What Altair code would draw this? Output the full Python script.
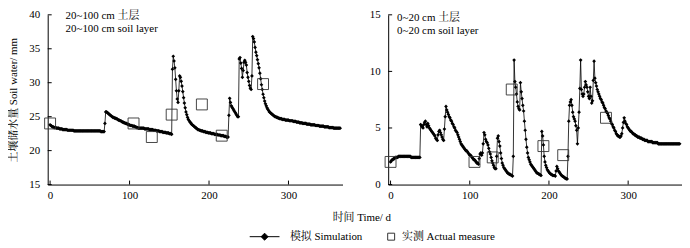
import altair as alt
import pandas as pd

FONT = "Liberation Serif, Noto Serif CJK SC, Noto Sans CJK SC"

DAYS = list(range(366))

# 20~100 cm layer, simulated daily soil water (mm)
SIM_DEEP = [
    23.8, 23.7, 23.6, 23.5, 23.5, 23.4, 23.4, 23.4, 23.3, 23.3,
    23.3, 23.3, 23.2, 23.2, 23.2, 23.2, 23.1, 23.1, 23.1, 23.1,
    23.1, 23.1, 23.0, 23.0, 23.0, 23.0, 23.0, 23.0, 23.0, 23.0,
    22.9, 22.9, 22.9, 22.9, 22.9, 22.9, 22.9, 22.9, 22.9, 22.9,
    22.9, 22.9, 22.9, 22.9, 22.9, 22.9, 22.9, 22.9, 22.9, 22.9,
    22.9, 22.9, 22.9, 22.9, 22.9, 22.9, 22.9, 22.9, 22.9, 22.9,
    22.9, 22.9, 22.9, 22.9, 22.8, 22.8, 22.8, 22.8, 22.8, 24.0,
    25.7, 25.7, 25.6, 25.5, 25.4, 25.3, 25.2, 25.1, 25.0, 24.9,
    24.9, 24.8, 24.8, 24.7, 24.7, 24.6, 24.5, 24.5, 24.4, 24.4,
    24.3, 24.2, 24.2, 24.1, 24.1, 24.0, 24.0, 23.9, 23.9, 23.8,
    23.8, 23.7, 23.7, 23.7, 23.6, 23.6, 23.6, 23.5, 23.5, 23.4,
    23.4, 23.3, 23.3, 23.3, 23.3, 23.3, 23.3, 23.3, 23.3, 23.2,
    23.2, 23.2, 23.2, 23.2, 23.2, 23.1, 23.1, 23.1, 23.1, 23.1,
    23.0, 23.0, 23.0, 23.0, 22.9, 22.9, 22.9, 22.9, 22.8, 22.8,
    22.8, 22.8, 22.7, 22.7, 22.7, 22.7, 22.6, 22.6, 22.6, 22.6,
    22.5, 22.5, 22.5, 22.4, 32.0, 33.9, 33.2, 32.2, 30.5, 28.8,
    27.6, 27.1, 28.8, 31.0, 30.8, 30.2, 29.5, 28.7, 27.8, 27.0,
    26.3, 25.7, 25.3, 24.9, 24.6, 24.4, 24.2, 24.1, 23.9, 23.8,
    23.7, 23.6, 23.5, 23.4, 23.3, 23.2, 23.1, 23.1, 23.0, 23.0,
    22.9, 22.9, 22.9, 22.8, 22.8, 22.8, 22.7, 22.7, 22.7, 22.6,
    22.6, 22.6, 22.6, 22.5, 22.5, 22.5, 22.5, 22.4, 22.4, 22.4,
    22.4, 22.3, 22.3, 22.3, 22.3, 22.2, 22.2, 22.2, 22.2, 22.1,
    22.1, 22.1, 22.0, 22.0, 22.0, 25.2, 27.7, 27.1, 26.6, 26.4,
    26.2, 26.0, 25.8, 25.6, 25.4, 25.2, 25.0, 25.0, 33.5, 33.7,
    32.9, 32.1, 30.8, 31.8, 33.0, 33.3, 33.0, 32.6, 31.5, 30.8,
    30.2, 29.6, 29.2, 29.0, 31.0, 36.8, 36.5, 36.0, 35.2, 34.5,
    34.0, 33.4, 32.8, 32.2, 31.4, 30.6, 29.7, 29.0, 28.3, 27.8,
    27.3, 26.9, 26.6, 26.3, 26.1, 25.9, 25.7, 25.6, 25.5, 25.4,
    25.3, 25.2, 25.1, 25.0, 25.0, 24.9, 24.9, 24.8, 24.8, 24.7,
    24.7, 24.7, 24.6, 24.6, 24.6, 24.6, 24.5, 24.5, 24.5, 24.5,
    24.5, 24.4, 24.4, 24.4, 24.4, 24.4, 24.3, 24.3, 24.3, 24.3,
    24.2, 24.2, 24.2, 24.2, 24.1, 24.1, 24.1, 24.1, 24.0, 24.0,
    24.0, 24.0, 24.0, 23.9, 23.9, 23.9, 23.9, 23.9, 23.8, 23.8,
    23.8, 23.8, 23.8, 23.8, 23.7, 23.7, 23.7, 23.7, 23.7, 23.6,
    23.6, 23.6, 23.6, 23.6, 23.6, 23.5, 23.5, 23.5, 23.5, 23.5,
    23.5, 23.4, 23.4, 23.4, 23.4, 23.4, 23.4, 23.3, 23.3, 23.3,
    23.3, 23.3, 23.3, 23.3, 23.3, 23.3,
]

# 0~20 cm layer, simulated daily soil water (mm)
SIM_TOP = [
    2.0, 2.1, 2.2, 2.2, 2.3, 2.3, 2.4, 2.4, 2.4, 2.4,
    2.5, 2.5, 2.5, 2.5, 2.5, 2.5, 2.5, 2.5, 2.5, 2.5,
    2.5, 2.5, 2.5, 2.5, 2.5, 2.5, 2.4, 2.4, 2.4, 2.4,
    2.4, 2.4, 2.4, 2.4, 2.4, 2.4, 2.4, 2.4, 5.3, 5.2,
    5.1, 5.0, 5.3, 5.5, 5.6, 5.3, 5.1, 5.4, 5.2, 5.0,
    4.9, 4.8, 4.7, 4.6, 4.5, 4.4, 4.3, 4.1, 4.0, 3.9,
    4.4, 4.7, 4.8, 4.6, 4.4, 4.2, 4.0, 3.9, 4.9, 6.0,
    6.9, 6.6, 6.4, 6.2, 6.0, 5.9, 5.7, 5.6, 5.4, 5.3,
    5.1, 5.0, 4.8, 4.7, 4.6, 4.4, 4.2, 4.0, 3.8, 3.6,
    3.5, 3.4, 3.3, 3.2, 3.1, 3.0, 3.0, 2.9, 2.8, 2.7,
    2.6, 2.6, 2.5, 2.4, 2.3, 2.2, 2.2, 2.1, 2.0, 1.9,
    1.9, 1.8, 2.3, 2.7, 2.8, 2.6, 2.8, 3.6, 4.6, 4.4,
    4.0, 3.8, 3.7, 3.5, 3.2, 2.9, 2.7, 2.4, 2.1, 1.9,
    1.7, 1.5, 1.4, 1.4, 2.5, 4.1, 4.3, 3.8, 3.4, 2.8,
    2.3, 1.9, 1.7, 1.5, 1.4, 1.3, 1.2, 1.1, 1.0, 1.0,
    0.9, 0.9, 0.85, 0.8, 0.75, 2.5, 11.0, 9.1, 8.6, 8.0,
    7.3, 6.9, 6.7, 6.6, 9.0, 8.2, 7.6, 7.0, 6.5, 5.6,
    4.8, 4.0, 3.3, 2.8, 2.4, 2.2, 2.0, 1.8, 1.7, 1.6,
    1.5, 1.4, 1.3, 1.2, 1.1, 1.0, 1.0, 0.95, 0.9, 0.85,
    0.8, 4.7, 4.3, 3.5, 2.5, 2.0, 1.7, 1.5, 1.3, 1.2,
    1.1, 1.0, 0.95, 0.9, 0.85, 0.8, 0.8, 0.8, 0.75, 1.2,
    1.6, 1.4, 1.2, 1.1, 1.0, 0.9, 0.8, 0.75, 0.7, 0.65,
    0.6, 0.55, 0.5, 0.5, 2.5, 5.6, 7.0, 7.3, 7.5, 7.0,
    6.4, 6.0, 5.8, 5.6, 5.2, 4.8, 3.6, 5.0, 6.4, 8.5,
    11.0, 8.4, 8.0, 7.8, 8.0, 8.6, 9.1, 8.8, 8.6, 8.2,
    7.8, 7.6, 8.6, 7.8, 7.2, 7.4, 9.2, 10.9, 9.4, 9.0,
    8.7, 8.4, 8.2, 8.0, 7.8, 7.6, 7.5, 7.3, 7.2, 7.0,
    6.8, 6.7, 6.5, 6.4, 6.3, 6.1, 5.9, 5.8, 5.6, 5.4,
    5.3, 5.1, 5.0, 4.8, 4.7, 4.5, 4.4, 4.3, 4.3, 4.2,
    4.2, 4.3, 4.5, 5.0, 5.5, 5.9, 5.6, 5.4, 5.3, 5.1,
    5.0, 4.9, 4.8, 4.7, 4.7, 4.6, 4.5, 4.5, 4.4, 4.4,
    4.3, 4.3, 4.2, 4.2, 4.2, 4.1, 4.1, 4.1, 4.0, 4.0,
    4.0, 3.9, 3.9, 3.9, 3.9, 3.8, 3.8, 3.8, 3.8, 3.8,
    3.8, 3.7, 3.7, 3.7, 3.7, 3.7, 3.7, 3.7, 3.6, 3.6,
    3.6, 3.6, 3.6, 3.6, 3.6, 3.6, 3.6, 3.6, 3.6, 3.6,
    3.6, 3.6, 3.6, 3.6, 3.6, 3.6, 3.6, 3.6, 3.6, 3.6,
    3.6, 3.6, 3.6, 3.6, 3.6, 3.6,
]

OBS_DEEP_DAY = [0, 105, 128, 153, 191, 216, 268]
OBS_DEEP_VAL = [24.0, 24.0, 22.0, 25.3, 26.8, 22.2, 29.8]
OBS_TOP_DAY = [0, 106, 129, 153, 193, 218, 272]
OBS_TOP_VAL = [2.0, 2.0, 2.4, 8.4, 3.4, 2.6, 5.9]

X_TICKS = [0, 100, 200, 300]
Y_TICKS_DEEP = [15, 20, 25, 30, 35, 40]
Y_TICKS_TOP = [0, 5, 10, 15]

TEXT_DEEP = ["20~100 cm 土层", "20~100 cm  soil layer"]
TEXT_TOP = ["0~20 cm 土层", "0~20 cm  soil layer"]
SERIES = ["模拟  Simulation", "实测  Actual measure"]
Y_TITLE = "土壤储水量  Soil water/ mm"
X_TITLE = "时间  Time/ d"

SIM_PATH = "M-2.3,0H0.7M-0.8,-0.35L-0.45,0L-0.8,0.35L-1.15,0Z"
OBS_PATH = "M0.3,-0.35H1V0.35H0.3Z"

H = 171


def panel(sim, obs_d, obs_v, ydom, yticks, texts, w, h, left):
    sim_df = pd.DataFrame({"day": DAYS, "val": sim})
    obs_df = pd.DataFrame({"day": obs_d, "val": obs_v})
    xs = alt.Scale(domain=[-3, 368], nice=False, zero=False)
    ys = alt.Scale(domain=ydom, nice=False, zero=False)
    xaxis_kw = dict(values=X_TICKS, ticks=False, grid=False, labelPadding=5,
                    domainColor="black", domainWidth=1, labelColor="black",
                    labelFont=FONT, labelFontSize=11)
    if left:
        xaxis = alt.Axis(title=X_TITLE, titleX=316, titleY=27, titleAlign="center",
                         titleFont=FONT, titleFontSize=11, titleFontWeight="normal",
                         titleColor="black", **xaxis_kw)
    else:
        xaxis = alt.Axis(title=None, **xaxis_kw)
    yaxis_kw = dict(values=yticks, ticks=False, grid=False, labelPadding=8,
                    domainColor="black", domainWidth=1, labelColor="black",
                    labelFont=FONT, labelFontSize=11)
    if left:
        yaxis = alt.Axis(title=Y_TITLE, titlePadding=10, titleFont=FONT,
                         titleFontSize=11, titleFontWeight="normal",
                         titleColor="black", **yaxis_kw)
    else:
        yaxis = alt.Axis(title=None, **yaxis_kw)

    X = lambda: alt.X("day:Q", scale=xs, axis=xaxis)
    Y = lambda: alt.Y("val:Q", scale=ys, axis=yaxis)

    line = alt.Chart(sim_df).mark_line(color="black", strokeWidth=0.8).encode(x=X(), y=Y())
    pts = alt.Chart(sim_df).mark_point(shape="diamond", filled=True, size=14,
                                       color="black", opacity=1).encode(x=X(), y=Y())
    obs = alt.Chart(obs_df).mark_point(shape="square", filled=False, size=121,
                                       color="#333333", strokeWidth=0.9,
                                       opacity=1).encode(x=X(), y=Y())
    ytick = alt.Chart(pd.DataFrame({"val": yticks})).mark_rule(
        color="black", strokeWidth=1).encode(y=Y(), x=alt.value(0), x2=alt.value(4))
    xtick = alt.Chart(pd.DataFrame({"day": X_TICKS})).mark_rule(
        color="black", strokeWidth=1).encode(x=X(), y=alt.value(h), y2=alt.value(h - 4))
    txt = alt.Chart(pd.DataFrame({"t": ["\n".join(texts)]})).mark_text(
        align="left", baseline="top", lineBreak="\n", lineHeight=13,
        font=FONT, fontSize=11, color="black").encode(
        text="t:N", x=alt.value(18 if left else 9), y=alt.value(-5 if left else -3))
    layers = [line, pts, obs, ytick, xtick, txt]
    if left:
        leg = alt.Legend(title=None, orient="none", legendX=216, legendY=213,
                         direction="horizontal", symbolSize=400,
                         symbolStrokeColor="black", symbolStrokeWidth=1,
                         symbolOpacity=1, labelFont=FONT, labelFontSize=11,
                         labelColor="black", labelOffset=7, columnPadding=9,
                         padding=0)
        legdf = pd.DataFrame({"series": SERIES})
        lg = alt.Chart(legdf).mark_point(opacity=0, strokeWidth=1).encode(
            x=alt.value(0), y=alt.value(0),
            shape=alt.Shape("series:N", scale=alt.Scale(domain=SERIES, range=[SIM_PATH, OBS_PATH]), legend=leg),
            fill=alt.Fill("series:N", scale=alt.Scale(domain=SERIES, range=["black", "white"]), legend=leg),
            stroke=alt.Stroke("series:N", scale=alt.Scale(domain=SERIES, range=["black", "#333333"]), legend=leg),
        )
        layers.append(lg)
    return alt.layer(*layers).properties(width=w, height=h)


left = panel(SIM_DEEP, OBS_DEEP_DAY, OBS_DEEP_VAL, [15, 40], Y_TICKS_DEEP, TEXT_DEEP, 297, H, True)
right = panel(SIM_TOP, OBS_TOP_DAY, OBS_TOP_VAL, [0, 15], Y_TICKS_TOP, TEXT_TOP, 296, H, False)

chart = alt.hconcat(left, right, spacing=46, bounds="flush").properties(
    padding={"left": 0, "top": 0, "right": 0, "bottom": 0},
    background="white",
).configure_view(stroke=None)

chart.save("out.html", embed_options={"renderer": "svg", "actions": False})
